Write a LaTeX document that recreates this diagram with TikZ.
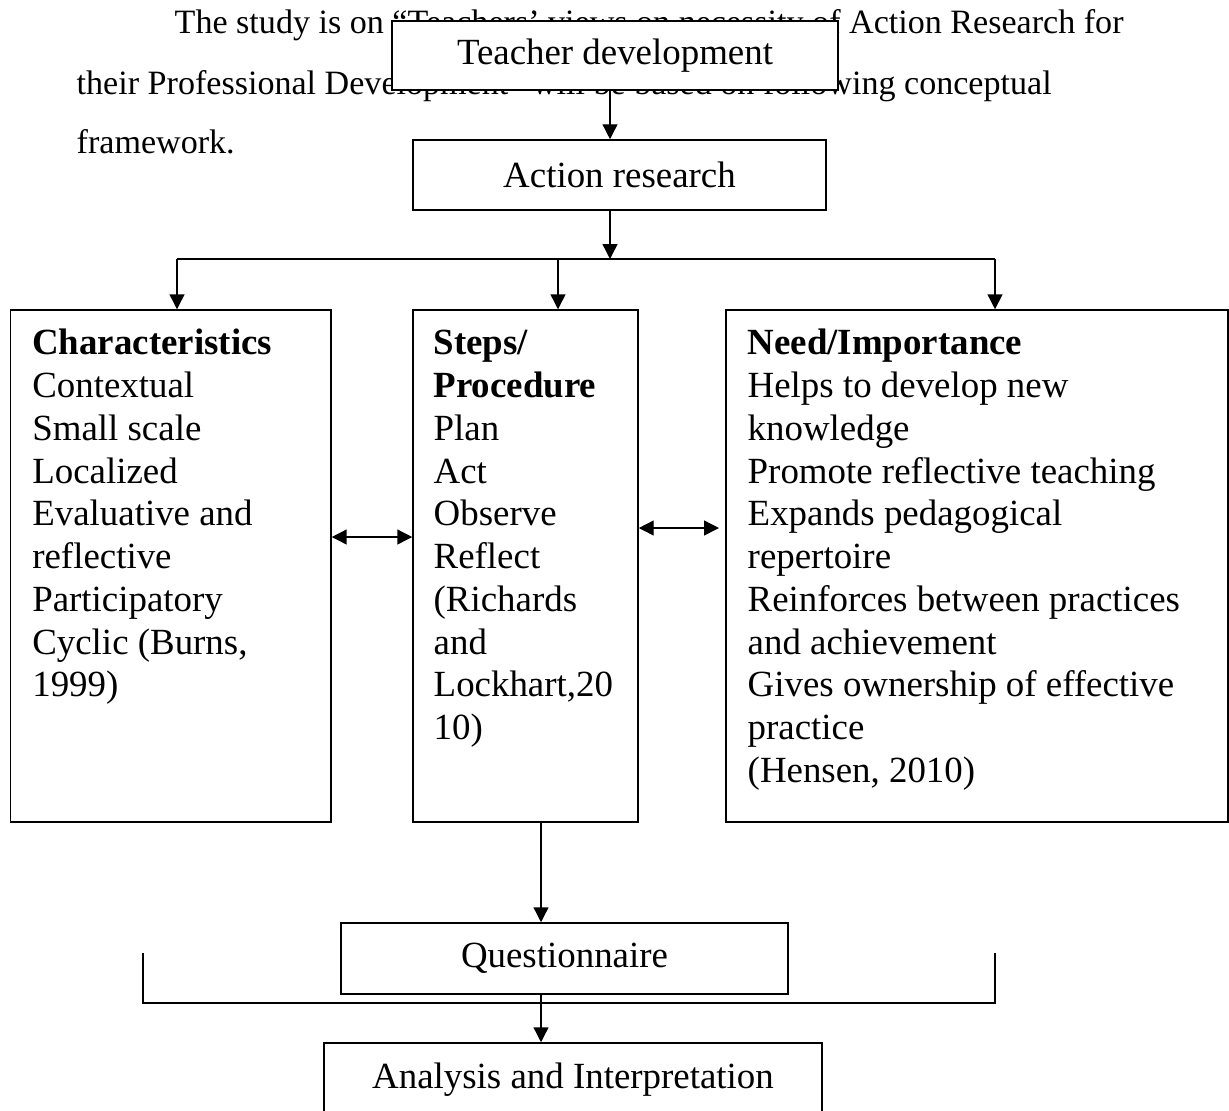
\documentclass[tikz,border=0pt]{standalone}
\usepackage{fontspec}
\setmainfont{Liberation Serif}
\usetikzlibrary{arrows.meta, positioning}
\tikzset{
  every picture/.style={line width=0.8pt},
  box/.style={draw, fill=white, line width=0.9pt, inner sep=0pt, align=center, font=\fontsize{21}{24.35}\selectfont},
  panel/.style={draw, line width=0.9pt, inner sep=0pt},
  paneltext/.style={anchor=north west, inner sep=0pt, align=left, font=\fontsize{21}{24.35}\selectfont},
  intro/.style={anchor=base west, inner sep=0pt, font=\fontsize{19.4}{23}\selectfont},
  arrow/.style={-{Triangle[length=8.5pt, width=8.5pt]}},
  twoway/.style={{Triangle[length=8.5pt, width=8.5pt]}-{Triangle[length=8.5pt, width=8.5pt]}},
}

\begin{document}
\begin{tikzpicture}[x=0.02cm, y=-0.02cm]
  \useasboundingbox (0,0) rectangle (1229,1110);
  % intro paragraph (partly under the top box)
  \node[intro] (intro1) at (174,33) {The study is on “Teachers' views on necessity of Action Research for};
  \node[intro] (intro2) at (76,94) {their Professional Development” will be based on following conceptual};
  \node[intro] (intro3) at (76,153) {framework.};
  % top chain
  \node[box, minimum width=8.92cm, minimum height=1.38cm] (td) at (615,55.5) {Teacher development};
  \node[box, minimum width=8.26cm, minimum height=1.4cm] (ar) at (619.5,175) {Action research};
  % three panels
  \node[panel, minimum width=6.41cm, minimum height=10.24cm] (chr) at (170.75,566) {};
  \node[panel, minimum width=4.5cm, minimum height=10.24cm] (stp) at (525.5,566) {};
  \node[panel, minimum width=10.04cm, minimum height=10.24cm] (need) at (977,566) {};
  \node[paneltext] (chrtxt) at (31.6,324) {\strut\textbf{Characteristics}\\Contextual\\Small scale\\Localized\\Evaluative and\\reflective\\Participatory\\Cyclic (Burns,\\1999)};
  \node[paneltext] (stptxt) at (433,324) {\strut\textbf{Steps/}\\\textbf{Procedure}\\Plan\\Act\\Observe\\Reflect\\(Richards\\and\\Lockhart,20\\10)};
  \node[paneltext] (needtxt) at (747,324) {\strut\textbf{Need/Importance}\\Helps to develop new\\knowledge\\Promote reflective teaching\\Expands pedagogical\\repertoire\\Reinforces between practices\\and achievement\\Gives ownership of effective\\practice\\(Hensen, 2010)};
  % bottom chain
  \node[box, minimum width=8.94cm, minimum height=1.42cm] (qst) at (564.5,958.5) {Questionnaire};
  \node[box, minimum width=9.96cm, minimum height=1.46cm] (ana) at (573,1079.5) {Analysis and Interpretation};
  % helper points
  \coordinate (spine) at (610,0);
  \coordinate (busl) at (177,259);
  \coordinate (busm) at (558,259);
  \coordinate (busr) at (995,259);
  \coordinate (la) at (0,537);
  \coordinate (ra) at (719,528);
  \coordinate (qspine) at (541,0);
  \coordinate (brl) at (143,953);
  \coordinate (brbase) at (570,1003);
  \coordinate (brr) at (995,953);
  % connectors
  \draw[arrow] (td.south -| spine) -- (ar.north -| spine);
  \draw[arrow] (ar.south -| spine) -- (spine |- busl);
  \draw (busl) -- (busr);
  \draw[arrow] (busl) -- (chr.north -| busl);
  \draw[arrow] (busm) -- (stp.north -| busm);
  \draw[arrow] (busr) -- (need.north -| busr);
  \draw[twoway] (chr.east |- la) -- (stp.west |- la);
  \draw[twoway] (stp.east |- ra) -- (ra);
  \draw[arrow] (stp.south -| qspine) -- (qst.north -| qspine);
  \draw (brl) |- (brbase) -| (brr);
  \draw[arrow] (qst.south -| qspine) -- (ana.north -| qspine);
\end{tikzpicture}
\end{document}
